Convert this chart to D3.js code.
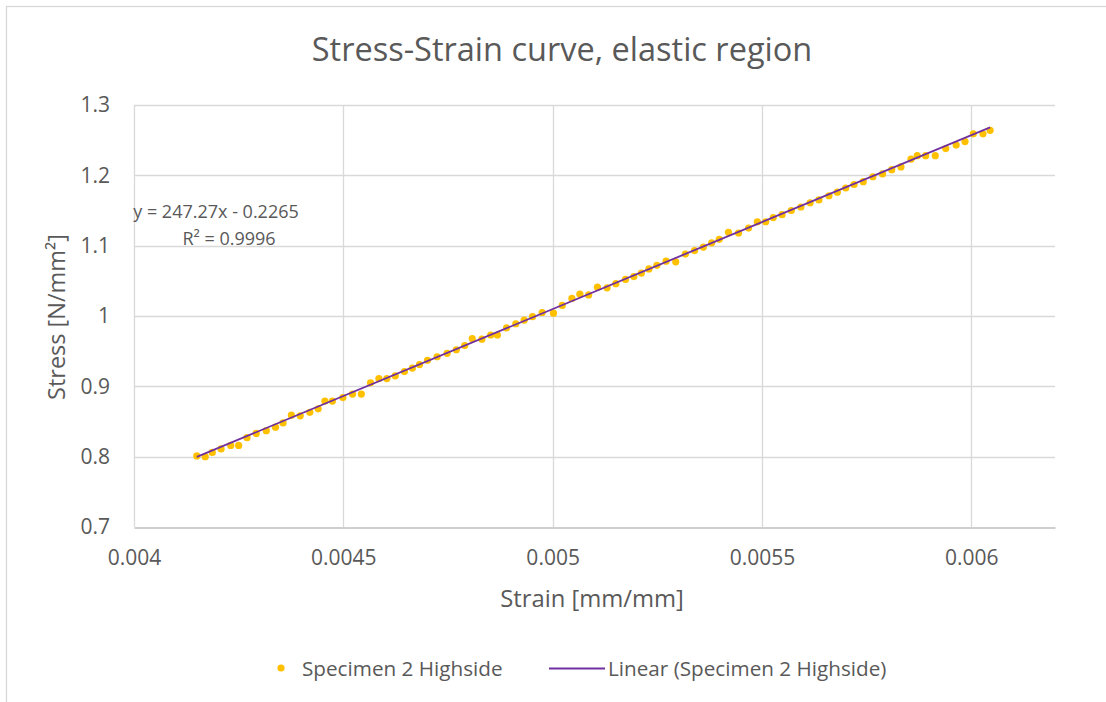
<!DOCTYPE html>
<html>
<head>
<meta charset="utf-8">
<script src="https://cdn.jsdelivr.net/npm/d3@7"></script>
<style>
  html, body { margin: 0; padding: 0; background: #ffffff; }
  svg { display: block; font-family: "Open Sans", "Noto Sans", sans-serif; }
</style>
</head>
<body>
<svg id="chart" width="1106" height="702"></svg>
<script>
// Measured strain [mm/mm] for specimen 2, high side
const strain = [
  0.004150, 0.004170, 0.004187, 0.004208, 0.004231, 0.004250, 0.004270, 0.004292,
  0.004316, 0.004338, 0.004356, 0.004376, 0.004397, 0.004420, 0.004440, 0.004456,
  0.004474, 0.004499, 0.004522, 0.004543, 0.004565, 0.004585, 0.004604, 0.004624,
  0.004646, 0.004665, 0.004682, 0.004701, 0.004724, 0.004748, 0.004770, 0.004790,
  0.004808, 0.004831, 0.004852, 0.004868, 0.004890, 0.004912, 0.004932, 0.004952,
  0.004975, 0.005002, 0.005023, 0.005046, 0.005065, 0.005086, 0.005107, 0.005130,
  0.005151, 0.005174, 0.005194, 0.005212, 0.005230, 0.005249, 0.005271, 0.005294,
  0.005317, 0.005339, 0.005360, 0.005380, 0.005398, 0.005420, 0.005444, 0.005468,
  0.005489, 0.005509, 0.005527, 0.005548, 0.005570, 0.005593, 0.005615, 0.005636,
  0.005660, 0.005680, 0.005700, 0.005720, 0.005742, 0.005765, 0.005788, 0.005810,
  0.005832, 0.005856, 0.005871, 0.005891, 0.005914, 0.005939, 0.005964, 0.005985,
  0.006005, 0.006028, 0.006045
];

// Measured stress [N/mm²], same order as strain
const stress = [
  0.801, 0.800, 0.806, 0.811, 0.816, 0.816, 0.827, 0.833,
  0.837, 0.842, 0.848, 0.859, 0.858, 0.863, 0.868, 0.879,
  0.879, 0.884, 0.889, 0.889, 0.905, 0.911, 0.911, 0.915,
  0.921, 0.926, 0.931, 0.937, 0.942, 0.947, 0.952, 0.958,
  0.968, 0.967, 0.973, 0.973, 0.983, 0.989, 0.994, 0.999,
  1.005, 1.004, 1.015, 1.025, 1.031, 1.030, 1.041, 1.040,
  1.046, 1.052, 1.056, 1.061, 1.067, 1.072, 1.078, 1.077,
  1.088, 1.093, 1.098, 1.104, 1.109, 1.119, 1.118, 1.125,
  1.134, 1.134, 1.140, 1.144, 1.150, 1.155, 1.161, 1.165,
  1.171, 1.176, 1.182, 1.187, 1.191, 1.198, 1.202, 1.208,
  1.212, 1.223, 1.228, 1.228, 1.228, 1.238, 1.243, 1.248,
  1.259, 1.259, 1.264
];

// Linear trendline coefficients (least squares fit)
const trendSlope = 247.27;
const trendIntercept = -0.2265;
const trendR2 = 0.9996;

const xTicks = [0.004, 0.0045, 0.005, 0.0055, 0.006];
const yTicks = [0.7, 0.8, 0.9, 1.0, 1.1, 1.2, 1.3];
const xDomain = [0.004, 0.0062];
const yDomain = [0.7, 1.3];

const seriesName = "Specimen 2 Highside";
const trendName = "Linear (Specimen 2 Highside)";

const textColor = "#595959";
const gridColor = "#d9d9d9";
const axisColor = "#bfbfbf";
const dotColor = "#ffc000";
const lineColor = "#7030a0";

const svg = d3.select("#chart");

// Chart frame
svg.append("rect")
  .attr("x", 6.5).attr("y", 6.5)
  .attr("width", 1112).attr("height", 702)
  .attr("fill", "#ffffff")
  .attr("stroke", gridColor).attr("stroke-width", 1.3);

const plot = { left: 134, right: 1055, top: 105, bottom: 527 };

const x = d3.scaleLinear().domain(xDomain).range([plot.left, plot.right]);
const y = d3.scaleLinear().domain(yDomain).range([plot.bottom, plot.top]);

// Horizontal gridlines
svg.append("g")
  .selectAll("line")
  .data(yTicks.filter(t => t > yDomain[0]))
  .join("line")
  .attr("x1", plot.left).attr("x2", plot.right)
  .attr("y1", d => Math.round(y(d)) + 0.5).attr("y2", d => Math.round(y(d)) + 0.5)
  .attr("stroke", gridColor).attr("stroke-width", 1.3);

// Vertical gridlines
svg.append("g")
  .selectAll("line")
  .data(xTicks)
  .join("line")
  .attr("x1", d => Math.round(x(d)) + 0.5).attr("x2", d => Math.round(x(d)) + 0.5)
  .attr("y1", plot.top).attr("y2", plot.bottom)
  .attr("stroke", gridColor).attr("stroke-width", 1.3);

// X axis (line + tick labels)
const xAxis = d3.axisBottom(x)
  .tickValues(xTicks)
  .tickSize(0)
  .tickPadding(23)
  .tickFormat(d => d3.format("")(+d.toFixed(4)));

const gx = svg.append("g")
  .attr("transform", `translate(0,${Math.round(y(yDomain[0])) + 0.5})`)
  .call(xAxis);
gx.select(".domain").attr("stroke", axisColor).attr("stroke-width", 1.3);
gx.selectAll("text")
  .attr("fill", textColor)
  .style("font-family", '"Open Sans", sans-serif')
  .style("font-size", "21px");

// Y axis (tick labels only)
const yAxis = d3.axisLeft(y)
  .tickValues(yTicks)
  .tickSize(0)
  .tickPadding(24)
  .tickFormat(d => d3.format("")(+d.toFixed(1)));

const gy = svg.append("g")
  .attr("transform", `translate(${plot.left},0)`)
  .call(yAxis);
gy.select(".domain").remove();
gy.selectAll("text")
  .attr("fill", textColor)
  .style("font-family", '"Open Sans", sans-serif')
  .style("font-size", "21px");

// Trendline from the fitted coefficients over the measured strain range
const xMin = d3.min(strain), xMax = d3.max(strain);
const trendPts = [xMin, xMax].map(v => [v, trendSlope * v + trendIntercept]);

// Measured points
svg.append("g")
  .selectAll("circle")
  .data(strain.map((s, i) => [s, stress[i]]))
  .join("circle")
  .attr("cx", d => x(d[0]))
  .attr("cy", d => y(d[1]))
  .attr("r", 3.6)
  .attr("fill", dotColor);

// Trendline drawn above the markers
svg.append("path")
  .datum(trendPts)
  .attr("fill", "none")
  .attr("stroke", lineColor)
  .attr("stroke-width", 1.8)
  .attr("d", d3.line().x(d => x(d[0])).y(d => y(d[1])));

// Trendline equation label
const eq = svg.append("g").attr("fill", textColor).style("font-size", "18px");
eq.append("text")
  .attr("x", 216).attr("y", 218)
  .attr("text-anchor", "middle")
  .text(`y = ${trendSlope}x - ${Math.abs(trendIntercept)}`);
eq.append("text")
  .attr("x", 229).attr("y", 245)
  .attr("text-anchor", "middle")
  .text(`R² = ${trendR2}`);

// Title
svg.append("text")
  .attr("x", 562).attr("y", 61)
  .attr("text-anchor", "middle")
  .attr("fill", textColor)
  .style("font-size", "32.5px")
  .text("Stress-Strain curve, elastic region");

// Axis titles
svg.append("text")
  .attr("x", 592).attr("y", 607)
  .attr("text-anchor", "middle")
  .attr("fill", textColor)
  .style("font-size", "23.8px")
  .text("Strain [mm/mm]");

svg.append("text")
  .attr("transform", `translate(65,${317}) rotate(-90)`)
  .attr("text-anchor", "middle")
  .attr("fill", textColor)
  .style("font-size", "23.5px")
  .text("Stress [N/mm²]");

// Legend
const legend = svg.append("g").style("font-size", "20.7px").attr("fill", textColor);
legend.append("circle")
  .attr("cx", 281).attr("cy", 668).attr("r", 3.6).attr("fill", dotColor);
legend.append("text")
  .attr("x", 302).attr("y", 676)
  .text(seriesName);
legend.append("line")
  .attr("x1", 549).attr("x2", 605)
  .attr("y1", 668.5).attr("y2", 668.5)
  .attr("stroke", lineColor).attr("stroke-width", 2);
legend.append("text")
  .attr("x", 608).attr("y", 676)
  .text(trendName);
</script>
</body>
</html>
